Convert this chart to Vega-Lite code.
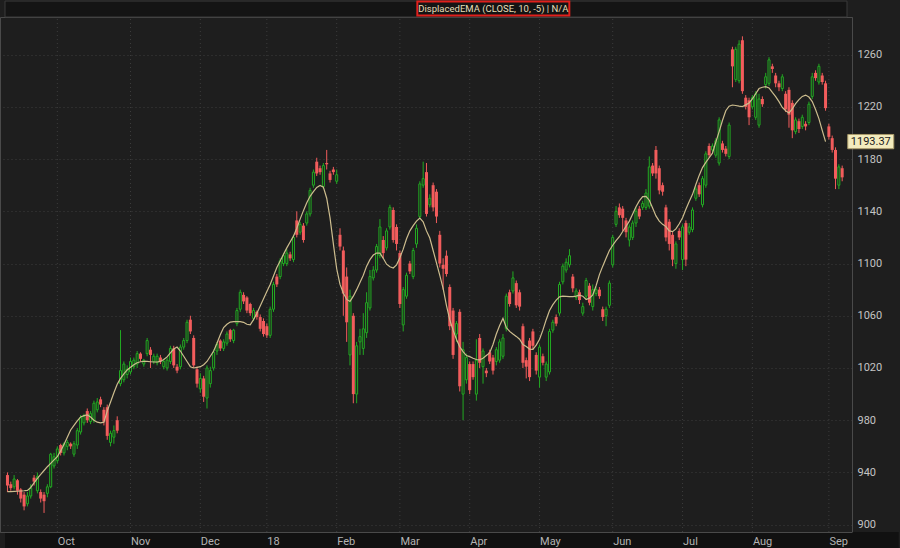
{
"$schema": "https://vega.github.io/schema/vega-lite/v6.json",
"width": 852, "height": 515,
"autosize": {"type": "none"},
"padding": {"left": 0, "top": 17, "right": 48, "bottom": 16},
"background": "#1e1e1e",
"config": {"view": {"fill": "#1e1e1e", "stroke": "#4a4a4a"}, "font": "Roboto"},
"data": {"values": [
{"i":0,"o":938,"h":940,"l":925,"c":930,"e":925.3},
{"i":1,"o":931,"h":933,"l":926,"c":928,"e":925.3},
{"i":2,"o":929,"h":938,"l":927,"c":935,"e":925.5},
{"i":3,"o":934,"h":935,"l":923,"c":926,"e":925.6},
{"i":4,"o":927,"h":928,"l":917,"c":920,"e":925.8},
{"i":5,"o":923,"h":925,"l":911,"c":914,"e":926.0},
{"i":6,"o":916,"h":925,"l":914,"c":922,"e":926.3},
{"i":7,"o":922,"h":931,"l":920,"c":928,"e":928.5},
{"i":8,"o":936,"h":938,"l":930,"c":933,"e":932},
{"i":9,"o":926,"h":940,"l":924,"c":937,"e":935.5},
{"i":10,"o":925,"h":927,"l":917,"c":920,"e":938.5},
{"i":11,"o":923,"h":925,"l":909,"c":918,"e":941.5},
{"i":12,"o":924,"h":931,"l":921,"c":929,"e":944.4},
{"i":13,"o":929,"h":955,"l":928,"c":954,"e":947},
{"i":14,"o":945,"h":955,"l":943,"c":952,"e":949.6},
{"i":15,"o":949,"h":960,"l":947,"c":958,"e":952.1},
{"i":16,"o":961,"h":962,"l":953,"c":955,"e":956.5},
{"i":17,"o":955,"h":963,"l":953,"c":962,"e":961.5},
{"i":18,"o":960,"h":965,"l":957,"c":963,"e":967},
{"i":19,"o":962,"h":963,"l":958,"c":960,"e":972.5},
{"i":20,"o":954,"h":964,"l":952,"c":962,"e":976},
{"i":21,"o":961,"h":974,"l":958,"c":972,"e":979.5},
{"i":22,"o":971,"h":984,"l":969,"c":982,"e":982.5},
{"i":23,"o":978,"h":985,"l":976,"c":983,"e":983.5},
{"i":24,"o":987,"h":989,"l":978,"c":980,"e":984},
{"i":25,"o":979,"h":987,"l":977,"c":985,"e":982.5},
{"i":26,"o":980,"h":995,"l":978,"c":993,"e":980},
{"i":27,"o":988,"h":997,"l":986,"c":994,"e":978.5},
{"i":28,"o":996,"h":998,"l":990,"c":992,"e":978},
{"i":29,"o":988,"h":990,"l":976,"c":979,"e":978.5},
{"i":30,"o":990,"h":992,"l":965,"c":968,"e":987},
{"i":31,"o":963,"h":972,"l":960,"c":970,"e":994},
{"i":32,"o":967,"h":976,"l":962,"c":972,"e":1001},
{"i":33,"o":980,"h":983,"l":970,"c":972,"e":1007.5},
{"i":34,"o":1008,"h":1049,"l":1006,"c":1018,"e":1012},
{"i":35,"o":1011,"h":1025,"l":1009,"c":1023,"e":1015.5},
{"i":36,"o":1015,"h":1022,"l":1012,"c":1019,"e":1018.5},
{"i":37,"o":1017,"h":1028,"l":1015,"c":1025,"e":1020.5},
{"i":38,"o":1021,"h":1028,"l":1019,"c":1026,"e":1022.5},
{"i":39,"o":1023,"h":1033,"l":1020,"c":1031,"e":1024},
{"i":40,"o":1031,"h":1032,"l":1025,"c":1027,"e":1024.8},
{"i":41,"o":1023,"h":1027,"l":1021,"c":1026,"e":1025},
{"i":42,"o":1031,"h":1043,"l":1029,"c":1041,"e":1025},
{"i":43,"o":1034,"h":1036,"l":1020,"c":1030,"e":1024.8},
{"i":44,"o":1025,"h":1031,"l":1023,"c":1029,"e":1024.6},
{"i":45,"o":1024,"h":1031,"l":1022,"c":1029,"e":1024.6},
{"i":46,"o":1028,"h":1030,"l":1023,"c":1025,"e":1025},
{"i":47,"o":1021,"h":1027,"l":1019,"c":1025,"e":1026.5},
{"i":48,"o":1020,"h":1028,"l":1018,"c":1026,"e":1028.5},
{"i":49,"o":1025,"h":1037,"l":1023,"c":1035,"e":1031.5},
{"i":50,"o":1035,"h":1037,"l":1020,"c":1022,"e":1034.5},
{"i":51,"o":1021,"h":1023,"l":1016,"c":1018,"e":1036},
{"i":52,"o":1021,"h":1038,"l":1019,"c":1036,"e":1033},
{"i":53,"o":1036,"h":1043,"l":1034,"c":1041,"e":1029},
{"i":54,"o":1041,"h":1057,"l":1039,"c":1055,"e":1025},
{"i":55,"o":1057,"h":1060,"l":1046,"c":1048,"e":1021},
{"i":56,"o":1043,"h":1045,"l":1020,"c":1022,"e":1020},
{"i":57,"o":1019,"h":1021,"l":1005,"c":1008,"e":1020.5},
{"i":58,"o":1004,"h":1016,"l":1001,"c":1012,"e":1021},
{"i":59,"o":1012,"h":1014,"l":994,"c":998,"e":1022.5},
{"i":60,"o":997,"h":1022,"l":989,"c":1020,"e":1025},
{"i":61,"o":1008,"h":1021,"l":1005,"c":1018,"e":1029},
{"i":62,"o":1020,"h":1034,"l":1018,"c":1032,"e":1033},
{"i":63,"o":1033,"h":1040,"l":1030,"c":1038,"e":1039},
{"i":64,"o":1041,"h":1042,"l":1033,"c":1035,"e":1045.5},
{"i":65,"o":1035,"h":1042,"l":1033,"c":1040,"e":1051},
{"i":66,"o":1039,"h":1048,"l":1037,"c":1046,"e":1053.5},
{"i":67,"o":1049,"h":1050,"l":1040,"c":1042,"e":1055.2},
{"i":68,"o":1041,"h":1050,"l":1039,"c":1049,"e":1055.5},
{"i":69,"o":1054,"h":1066,"l":1052,"c":1064,"e":1055.5},
{"i":70,"o":1065,"h":1080,"l":1063,"c":1078,"e":1055.5},
{"i":71,"o":1076,"h":1078,"l":1069,"c":1071,"e":1055},
{"i":72,"o":1074,"h":1075,"l":1062,"c":1064,"e":1053.5},
{"i":73,"o":1069,"h":1070,"l":1060,"c":1062,"e":1053},
{"i":74,"o":1058,"h":1066,"l":1056,"c":1064,"e":1057},
{"i":75,"o":1063,"h":1064,"l":1057,"c":1059,"e":1062},
{"i":76,"o":1059,"h":1061,"l":1048,"c":1050,"e":1067.5},
{"i":77,"o":1056,"h":1058,"l":1044,"c":1046,"e":1073},
{"i":78,"o":1052,"h":1054,"l":1043,"c":1045,"e":1078.5},
{"i":79,"o":1045,"h":1067,"l":1043,"c":1065,"e":1084},
{"i":80,"o":1065,"h":1086,"l":1063,"c":1084,"e":1090.5},
{"i":81,"o":1090,"h":1092,"l":1082,"c":1084,"e":1097},
{"i":82,"o":1090,"h":1104,"l":1088,"c":1102,"e":1102},
{"i":83,"o":1100,"h":1108,"l":1098,"c":1106,"e":1107},
{"i":84,"o":1100,"h":1111,"l":1098,"c":1108,"e":1112},
{"i":85,"o":1107,"h":1109,"l":1102,"c":1104,"e":1116.5},
{"i":86,"o":1103,"h":1122,"l":1101,"c":1120,"e":1121},
{"i":87,"o":1133,"h":1140,"l":1120,"c":1122,"e":1127},
{"i":88,"o":1124,"h":1132,"l":1122,"c":1130,"e":1134},
{"i":89,"o":1129,"h":1131,"l":1116,"c":1118,"e":1140.5},
{"i":90,"o":1131,"h":1140,"l":1129,"c":1138,"e":1146.5},
{"i":91,"o":1138,"h":1158,"l":1136,"c":1156,"e":1151.5},
{"i":92,"o":1160,"h":1172,"l":1158,"c":1170,"e":1155},
{"i":93,"o":1178,"h":1181,"l":1167,"c":1169,"e":1158.3},
{"i":94,"o":1173,"h":1175,"l":1168,"c":1170,"e":1159.8},
{"i":95,"o":1159,"h":1177,"l":1157,"c":1175,"e":1158.5},
{"i":96,"o":1177,"h":1187,"l":1172,"c":1176,"e":1150},
{"i":97,"o":1169,"h":1171,"l":1162,"c":1164,"e":1135},
{"i":98,"o":1172,"h":1174,"l":1168,"c":1170,"e":1115},
{"i":99,"o":1163,"h":1172,"l":1161,"c":1168,"e":1096},
{"i":100,"o":1122,"h":1127,"l":1110,"c":1113,"e":1084},
{"i":101,"o":1110,"h":1113,"l":1060,"c":1077,"e":1077.5},
{"i":102,"o":1090,"h":1097,"l":1040,"c":1055,"e":1072.5},
{"i":103,"o":1030,"h":1080,"l":1022,"c":1075,"e":1071},
{"i":104,"o":1060,"h":1062,"l":993,"c":1000,"e":1075},
{"i":105,"o":1000,"h":1040,"l":993,"c":1037,"e":1080},
{"i":106,"o":1040,"h":1050,"l":1030,"c":1044,"e":1085.5},
{"i":107,"o":1035,"h":1062,"l":1030,"c":1050,"e":1091},
{"i":108,"o":1047,"h":1078,"l":1043,"c":1070,"e":1098},
{"i":109,"o":1066,"h":1095,"l":1064,"c":1090,"e":1103},
{"i":110,"o":1089,"h":1098,"l":1087,"c":1095,"e":1106.5},
{"i":111,"o":1095,"h":1115,"l":1093,"c":1113,"e":1108},
{"i":112,"o":1106,"h":1134,"l":1104,"c":1128,"e":1108},
{"i":113,"o":1118,"h":1121,"l":1104,"c":1108,"e":1104},
{"i":114,"o":1112,"h":1127,"l":1110,"c":1125,"e":1099.5},
{"i":115,"o":1128,"h":1145,"l":1126,"c":1143,"e":1097.5},
{"i":116,"o":1141,"h":1143,"l":1116,"c":1118,"e":1096.6},
{"i":117,"o":1128,"h":1130,"l":1110,"c":1115,"e":1099},
{"i":118,"o":1108,"h":1110,"l":1066,"c":1069,"e":1104.5},
{"i":119,"o":1053,"h":1082,"l":1048,"c":1080,"e":1111},
{"i":120,"o":1075,"h":1093,"l":1073,"c":1091,"e":1119},
{"i":121,"o":1100,"h":1102,"l":1092,"c":1094,"e":1125},
{"i":122,"o":1090,"h":1112,"l":1088,"c":1110,"e":1129},
{"i":123,"o":1115,"h":1130,"l":1112,"c":1127,"e":1132.5},
{"i":124,"o":1136,"h":1163,"l":1134,"c":1161,"e":1134.8},
{"i":125,"o":1160,"h":1178,"l":1158,"c":1165,"e":1132},
{"i":126,"o":1170,"h":1177,"l":1136,"c":1138,"e":1125},
{"i":127,"o":1145,"h":1153,"l":1143,"c":1150,"e":1119.5},
{"i":128,"o":1160,"h":1162,"l":1140,"c":1143,"e":1110},
{"i":129,"o":1155,"h":1157,"l":1131,"c":1136,"e":1100.5},
{"i":130,"o":1122,"h":1125,"l":1097,"c":1100,"e":1091},
{"i":131,"o":1099,"h":1104,"l":1080,"c":1096,"e":1081},
{"i":132,"o":1106,"h":1110,"l":1090,"c":1092,"e":1068},
{"i":133,"o":1082,"h":1084,"l":1049,"c":1052,"e":1056.8},
{"i":134,"o":1064,"h":1066,"l":1027,"c":1030,"e":1049},
{"i":135,"o":1046,"h":1056,"l":1040,"c":1054,"e":1042},
{"i":136,"o":1063,"h":1065,"l":1002,"c":1006,"e":1036.3},
{"i":137,"o":1000,"h":1040,"l":980,"c":1034,"e":1032.5},
{"i":138,"o":1011,"h":1031,"l":1008,"c":1028,"e":1029.5},
{"i":139,"o":1023,"h":1025,"l":1000,"c":1003,"e":1028.7},
{"i":140,"o":1023,"h":1025,"l":1011,"c":1013,"e":1027.5},
{"i":141,"o":1000,"h":1042,"l":995,"c":1026,"e":1026.5},
{"i":142,"o":1043,"h":1046,"l":1020,"c":1024,"e":1026.2},
{"i":143,"o":1021,"h":1035,"l":1008,"c":1033,"e":1027.5},
{"i":144,"o":1018,"h":1020,"l":1013,"c":1016,"e":1029.5},
{"i":145,"o":1032,"h":1034,"l":1023,"c":1025,"e":1031.5},
{"i":146,"o":1028,"h":1030,"l":1015,"c":1018,"e":1038},
{"i":147,"o":1025,"h":1036,"l":1022,"c":1034,"e":1046},
{"i":148,"o":1026,"h":1042,"l":1024,"c":1040,"e":1052.5},
{"i":149,"o":1029,"h":1046,"l":1027,"c":1043,"e":1058},
{"i":150,"o":1050,"h":1077,"l":1048,"c":1075,"e":1051},
{"i":151,"o":1078,"h":1080,"l":1067,"c":1069,"e":1048},
{"i":152,"o":1079,"h":1094,"l":1077,"c":1089,"e":1046},
{"i":153,"o":1085,"h":1087,"l":1066,"c":1068,"e":1044.2},
{"i":154,"o":1078,"h":1080,"l":1064,"c":1067,"e":1042},
{"i":155,"o":1052,"h":1054,"l":1020,"c":1024,"e":1038},
{"i":156,"o":1026,"h":1028,"l":1012,"c":1021,"e":1036.5},
{"i":157,"o":1041,"h":1043,"l":1010,"c":1013,"e":1034.5},
{"i":158,"o":1048,"h":1050,"l":1034,"c":1037,"e":1034.2},
{"i":159,"o":1030,"h":1032,"l":1015,"c":1018,"e":1037.5},
{"i":160,"o":1013,"h":1038,"l":1005,"c":1036,"e":1042},
{"i":161,"o":1029,"h":1031,"l":1022,"c":1024,"e":1049},
{"i":162,"o":1013,"h":1025,"l":1010,"c":1023,"e":1057},
{"i":163,"o":1017,"h":1050,"l":1015,"c":1048,"e":1064},
{"i":164,"o":1049,"h":1057,"l":1047,"c":1055,"e":1068.5},
{"i":165,"o":1059,"h":1061,"l":1052,"c":1054,"e":1072},
{"i":166,"o":1062,"h":1086,"l":1060,"c":1084,"e":1074.5},
{"i":167,"o":1086,"h":1100,"l":1084,"c":1098,"e":1075},
{"i":168,"o":1095,"h":1104,"l":1093,"c":1101,"e":1074.8},
{"i":169,"o":1099,"h":1111,"l":1097,"c":1106,"e":1074.6},
{"i":170,"o":1090,"h":1092,"l":1078,"c":1081,"e":1074.6},
{"i":171,"o":1074,"h":1081,"l":1072,"c":1079,"e":1075},
{"i":172,"o":1078,"h":1080,"l":1069,"c":1072,"e":1075.8},
{"i":173,"o":1062,"h":1070,"l":1060,"c":1067,"e":1075},
{"i":174,"o":1075,"h":1089,"l":1073,"c":1087,"e":1072.5},
{"i":175,"o":1083,"h":1085,"l":1068,"c":1070,"e":1073.5},
{"i":176,"o":1067,"h":1084,"l":1064,"c":1080,"e":1076},
{"i":177,"o":1077,"h":1082,"l":1075,"c":1080,"e":1083},
{"i":178,"o":1080,"h":1082,"l":1073,"c":1075,"e":1091.5},
{"i":179,"o":1065,"h":1067,"l":1056,"c":1059,"e":1098},
{"i":180,"o":1060,"h":1067,"l":1052,"c":1065,"e":1104},
{"i":181,"o":1068,"h":1087,"l":1066,"c":1085,"e":1110},
{"i":182,"o":1099,"h":1122,"l":1097,"c":1120,"e":1114},
{"i":183,"o":1130,"h":1144,"l":1128,"c":1140,"e":1117.5},
{"i":184,"o":1143,"h":1146,"l":1135,"c":1137,"e":1120.5},
{"i":185,"o":1142,"h":1144,"l":1125,"c":1135,"e":1124.5},
{"i":186,"o":1133,"h":1135,"l":1120,"c":1124,"e":1128.5},
{"i":187,"o":1118,"h":1130,"l":1113,"c":1128,"e":1132.5},
{"i":188,"o":1120,"h":1133,"l":1118,"c":1131,"e":1138},
{"i":189,"o":1131,"h":1143,"l":1128,"c":1140,"e":1143.5},
{"i":190,"o":1142,"h":1144,"l":1134,"c":1136,"e":1148},
{"i":191,"o":1143,"h":1148,"l":1141,"c":1146,"e":1151.2},
{"i":192,"o":1143,"h":1157,"l":1141,"c":1154,"e":1151.5},
{"i":193,"o":1144,"h":1182,"l":1142,"c":1174,"e":1148.5},
{"i":194,"o":1175,"h":1177,"l":1167,"c":1169,"e":1142.5},
{"i":195,"o":1187,"h":1190,"l":1165,"c":1169,"e":1136.5},
{"i":196,"o":1173,"h":1175,"l":1153,"c":1156,"e":1132.5},
{"i":197,"o":1160,"h":1162,"l":1152,"c":1155,"e":1130},
{"i":198,"o":1143,"h":1145,"l":1117,"c":1120,"e":1128.3},
{"i":199,"o":1132,"h":1134,"l":1110,"c":1115,"e":1125},
{"i":200,"o":1122,"h":1124,"l":1098,"c":1103,"e":1124.4},
{"i":201,"o":1100,"h":1117,"l":1096,"c":1115,"e":1126.5},
{"i":202,"o":1125,"h":1127,"l":1118,"c":1120,"e":1130.5},
{"i":203,"o":1103,"h":1130,"l":1095,"c":1128,"e":1135},
{"i":204,"o":1131,"h":1133,"l":1098,"c":1103,"e":1141.5},
{"i":205,"o":1124,"h":1131,"l":1122,"c":1128,"e":1147.5},
{"i":206,"o":1126,"h":1143,"l":1124,"c":1141,"e":1153},
{"i":207,"o":1150,"h":1159,"l":1148,"c":1157,"e":1160.5},
{"i":208,"o":1160,"h":1162,"l":1151,"c":1153,"e":1167.5},
{"i":209,"o":1145,"h":1167,"l":1143,"c":1165,"e":1173.5},
{"i":210,"o":1160,"h":1186,"l":1158,"c":1184,"e":1177.5},
{"i":211,"o":1190,"h":1192,"l":1181,"c":1183,"e":1181},
{"i":212,"o":1187,"h":1192,"l":1185,"c":1190,"e":1184.5},
{"i":213,"o":1183,"h":1196,"l":1181,"c":1194,"e":1193},
{"i":214,"o":1177,"h":1212,"l":1175,"c":1210,"e":1201},
{"i":215,"o":1192,"h":1194,"l":1185,"c":1187,"e":1209.5},
{"i":216,"o":1188,"h":1190,"l":1182,"c":1184,"e":1217},
{"i":217,"o":1182,"h":1208,"l":1180,"c":1206,"e":1220.5},
{"i":218,"o":1264,"h":1266,"l":1235,"c":1251,"e":1221.4},
{"i":219,"o":1241,"h":1266,"l":1239,"c":1264,"e":1221},
{"i":220,"o":1240,"h":1271,"l":1238,"c":1268,"e":1220.5},
{"i":221,"o":1271,"h":1274,"l":1230,"c":1232,"e":1220.2},
{"i":222,"o":1227,"h":1229,"l":1218,"c":1220,"e":1221.5},
{"i":223,"o":1225,"h":1227,"l":1206,"c":1212,"e":1223},
{"i":224,"o":1220,"h":1229,"l":1218,"c":1227,"e":1226},
{"i":225,"o":1212,"h":1232,"l":1210,"c":1230,"e":1230},
{"i":226,"o":1206,"h":1230,"l":1204,"c":1226,"e":1234},
{"i":227,"o":1226,"h":1228,"l":1220,"c":1222,"e":1235},
{"i":228,"o":1237,"h":1246,"l":1234,"c":1243,"e":1235.4},
{"i":229,"o":1238,"h":1258,"l":1236,"c":1256,"e":1234.5},
{"i":230,"o":1251,"h":1253,"l":1246,"c":1249,"e":1231},
{"i":231,"o":1244,"h":1246,"l":1235,"c":1238,"e":1227.8},
{"i":232,"o":1238,"h":1240,"l":1232,"c":1235,"e":1224},
{"i":233,"o":1234,"h":1245,"l":1232,"c":1243,"e":1219.5},
{"i":234,"o":1230,"h":1232,"l":1216,"c":1218,"e":1217},
{"i":235,"o":1233,"h":1235,"l":1204,"c":1214,"e":1215.3},
{"i":236,"o":1223,"h":1225,"l":1196,"c":1202,"e":1218.5},
{"i":237,"o":1201,"h":1212,"l":1199,"c":1210,"e":1222.5},
{"i":238,"o":1209,"h":1211,"l":1200,"c":1203,"e":1225.5},
{"i":239,"o":1205,"h":1214,"l":1203,"c":1212,"e":1228},
{"i":240,"o":1207,"h":1209,"l":1202,"c":1205,"e":1229},
{"i":241,"o":1208,"h":1224,"l":1206,"c":1222,"e":1227.5},
{"i":242,"o":1228,"h":1246,"l":1226,"c":1243,"e":1224},
{"i":243,"o":1246,"h":1248,"l":1240,"c":1242,"e":1218},
{"i":244,"o":1239,"h":1253,"l":1237,"c":1251,"e":1211},
{"i":245,"o":1244,"h":1246,"l":1237,"c":1239,"e":1202},
{"i":246,"o":1238,"h":1240,"l":1217,"c":1219,"e":1193.37},
{"i":247,"o":1205,"h":1207,"l":1195,"c":1197},
{"i":248,"o":1196,"h":1198,"l":1185,"c":1187},
{"i":249,"o":1187,"h":1189,"l":1157,"c":1165},
{"i":250,"o":1160,"h":1176,"l":1157,"c":1174},
{"i":251,"o":1173,"h":1175,"l":1163,"c":1166}
]},
"encoding": {
  "x": {"field": "i", "type": "quantitative",
    "scale": {"domain": [-0.74, 252.45], "nice": false, "zero": false},
    "axis": {"title": null, "orient": "bottom", "zindex": 1,
      "values": [15,37,58,78,99,118,139,160,182,203,224,247],
      "labelExpr": "['Oct','Nov','Dec','18','Feb','Mar','Apr','May','Jun','Jul','Aug','Sep'][indexof([15,37,58,78,99,118,139,160,182,203,224,247], datum.value)]",
      "labelAlign": "left", "labelColor": "#b4b4b4", "labelFontSize": 11, "labelPadding": 3,
      "ticks": false, "domain": true, "domainColor": "#4a4a4a",
      "grid": false, "labelFlush": false, "labelOverlap": false}}
},
"layer": [
  {"transform": [{"filter": "datum.i == 246"}],
   "mark": {"type": "rect", "fill": "#111111"},
   "encoding": {"x": {"datum": -0.74, "type": "quantitative"}, "x2": {"datum": 268},
     "y": {"datum": 894.4, "type": "quantitative", "scale": {"domain": [894.4, 1288.8], "nice": false, "zero": false}}, "y2": {"datum": 880}}},
  {"transform": [{"filter": "datum.i == 246"}],
   "mark": {"type": "rect", "fill": "#141414", "stroke": "#3a3a3a", "strokeWidth": 1},
   "encoding": {"x": {"datum": -0.74, "type": "quantitative"}, "x2": {"datum": 252.45},
     "y": {"datum": 1288.8, "type": "quantitative"}, "y2": {"datum": 1301}}},
  {"mark": {"type": "rule", "color": "#3c3c3c", "strokeDash": [1, 3]},
   "transform": [{"filter": "indexof([15,37,58,78,99,118,139,160,182,203,224,247], datum.i) >= 0"}],
   "encoding": {"y": {"datum": 894.4, "type": "quantitative"}, "y2": {"datum": 1288.8}}},
  {"mark": {"type": "rule", "strokeWidth": 1},
   "encoding": {
     "y": {"field": "l", "type": "quantitative",
       "scale": {"domain": [894.4, 1288.8], "nice": false, "zero": false},
       "axis": {"title": null, "orient": "right", "format": "d", "labelOverlap": false,
         "values": [900,920,940,960,980,1000,1020,1040,1060,1080,1100,1120,1140,1160,1180,1200,1220,1240,1260,1280],
         "labelColor": "#c4c4c4", "labelFontSize": 11, "labelPadding": 5, "ticks": false,
         "domain": true, "domainColor": "#4a4a4a", "grid": true, "gridColor": "#3c3c3c", "gridDash": [1, 3]}},
     "y2": {"field": "h"},
     "color": {"condition": {"test": "datum.c >= datum.o", "value": "#22aa22"}, "value": "#f25c5c"}}},
  {"transform": [{"filter": "datum.c >= datum.o"}],
   "mark": {"type": "bar", "size": 2, "fill": "#1e1e1e", "stroke": "#22aa22", "strokeWidth": 1},
   "encoding": {"y": {"field": "o", "type": "quantitative"}, "y2": {"field": "c"}}},
  {"transform": [{"filter": "datum.c < datum.o"}],
   "mark": {"type": "bar", "size": 3, "fill": "#f25c5c"},
   "encoding": {"y": {"field": "o", "type": "quantitative"}, "y2": {"field": "c"}}},
  {"mark": {"type": "line", "color": "#cdbd8e", "strokeWidth": 1.2},
   "encoding": {"y": {"field": "e", "type": "quantitative"}}},
  {"transform": [{"filter": "datum.i == 246"}],
   "mark": {"type": "point", "shape": "M-1,-0.31L1,-0.31L1,0.31L-1,0.31Z", "size": 2116, "filled": true, "fill": "#f3ebbd", "stroke": "#a89a6a", "strokeWidth": 1, "opacity": 1},
   "encoding": {"x": {"datum": 259.6, "type": "quantitative"}, "y": {"field": "e", "type": "quantitative"}}},
  {"transform": [{"filter": "datum.i == 246"}],
   "mark": {"type": "text", "fontSize": 11, "color": "#1a1a1a", "align": "center", "baseline": "middle"},
   "encoding": {"x": {"datum": 259.6, "type": "quantitative"}, "y": {"field": "e", "type": "quantitative"}, "text": {"field": "e", "type": "quantitative", "format": ".2f"}}},
  {"transform": [{"filter": "datum.i == 246"}],
   "mark": {"type": "point", "shape": "M-1,-0.092L1,-0.092L1,0.092L-1,0.092Z", "size": 23104, "filled": true, "fill": "#141414", "stroke": "#e0201c", "strokeWidth": 2, "opacity": 1},
   "encoding": {"x": {"datum": 146.1, "type": "quantitative"}, "y": {"datum": 1295.3, "type": "quantitative"}}},
  {"transform": [{"filter": "datum.i == 246"}],
   "mark": {"type": "text", "fontSize": 9.5, "color": "#e8dfb8", "align": "center", "baseline": "middle"},
   "encoding": {"x": {"datum": 146.1, "type": "quantitative"}, "y": {"datum": 1295.3, "type": "quantitative"}, "text": {"value": "DisplacedEMA (CLOSE, 10, -5) | N/A"}}}
]
}
